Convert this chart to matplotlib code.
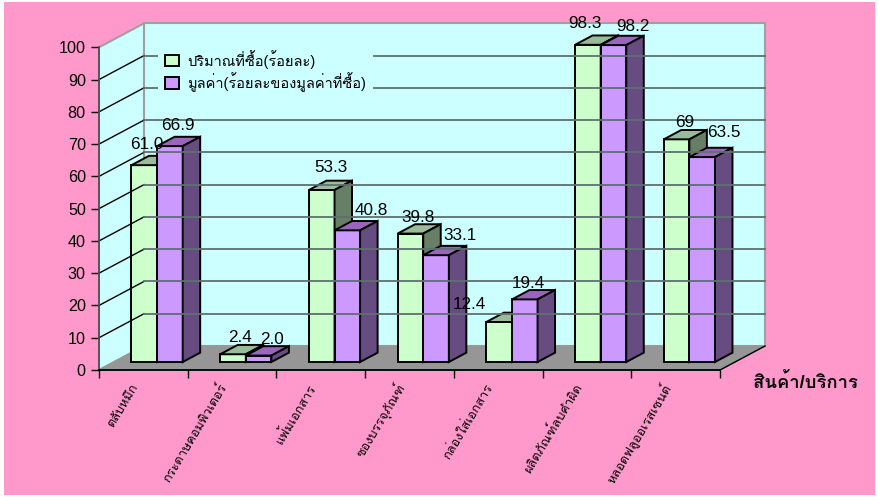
import matplotlib
matplotlib.use('Agg')
import matplotlib.pyplot as plt
from matplotlib.patches import Polygon, Patch, Rectangle

categories = ['ตลับหมึก', 'กระดาษคอมพิวเตอร์', 'แฟ้มเอกสาร', 'ซองบรรจุภัณฑ์',
              'กล่องใส่เอกสาร', 'ผลิตภัณฑ์ลบคำผิด', 'หลอดฟลูออเรสเซนต์']
quantity = [61.0, 2.4, 53.3, 39.8, 12.4, 98.3, 69]
value = [66.9, 2.0, 40.8, 33.1, 19.4, 98.2, 63.5]
quantity_text = ['61.0', '2.4', '53.3', '39.8', '12.4', '98.3', '69']
value_text = ['66.9', '2.0', '40.8', '33.1', '19.4', '98.2', '63.5']
legend_labels = ['ปริมาณที่ซื้อ(ร้อยละ)', 'มูลค่า(ร้อยละของมูลค่าที่ซื้อ)']
x_title = 'สินค้า/บริการ'
y_ticks = [0, 10, 20, 30, 40, 50, 60, 70, 80, 90, 100]

# label offsets from the front top centre of each bar, pixels
shift_q = [(3, 21), (7, 17), (9, 23), (8, 16), (-30, 17), (-3, 21), (8, 17)]
shift_v = [(8, 21), (13, 16), (24, 20), (24, 20), (4, 16), (19, 19), (22, 25)]

plt.rcParams['font.family'] = ['Liberation Sans', 'Loma', 'DejaVu Sans']

W, H = 879, 497
fig = plt.figure(figsize=(W / 100, H / 100), dpi=100, facecolor='white')
fig.add_artist(Rectangle((4 / W, 2 / H), 871 / W, 493 / H, transform=fig.transFigure,
                         facecolor='#FF99CC', edgecolor='none', zorder=-5))
ax = fig.add_axes([99 / W, 1 - 370 / H, 621 / W, 322.7 / H])
ax.set_xlim(0, 7)
ax.set_ylim(0, 100)
ax.patch.set_visible(False)

ddx, ddy = 45 / (621 / 7), 24 / 3.227


def pr(x, y, d):
    return (x + d * ddx, y + d * ddy)


wall = '#CCFFFF'
ax.add_patch(Polygon([pr(0, 0, 1), pr(7, 0, 1), pr(7, 100, 1), pr(0, 100, 1)], fc=wall, ec='#A0A0A0', lw=1.5, clip_on=False))
ax.add_patch(Polygon([pr(0, 0, 0), pr(0, 100, 0), pr(0, 100, 1), pr(0, 0, 1)], fc=wall, ec='#A0A0A0', lw=1.5, clip_on=False))
ax.add_patch(Polygon([pr(0, 0, 0), pr(7, 0, 0), pr(7, 0, 1), pr(0, 0, 1)], fc='#969696', ec='#969696', lw=1, clip_on=False))
ax.plot(*zip(pr(7, 0, 0), pr(7, 0, 1)), color='black', lw=1, clip_on=False)

for v in y_ticks[1:-1]:
    ax.plot(*zip(pr(0, v, 0), pr(0, v, 1)), color='black', lw=1, clip_on=False)
    ax.plot(*zip(pr(0, v, 1), pr(7, v, 1)), color='#5F7070', lw=1.3, clip_on=False)

d0, d1 = 1 / 3, 0.722
bw = 25.6 / (621 / 7)
start = 17.5 / (621 / 7)
styles = [('#CCFFCC', '#99BB99', '#667F66'), ('#CC99FF', '#9966BB', '#664C80')]
for i in range(7):
    for s, vals in enumerate([quantity, value]):
        x0 = i + start + s * bw
        x1 = x0 + bw
        h = vals[i]
        front, top, side = styles[s]
        ax.add_patch(Polygon([pr(x0, 0, d0), pr(x1, 0, d0), pr(x1, h, d0), pr(x0, h, d0)], fc=front, ec='black', lw=1.4, clip_on=False))
        ax.add_patch(Polygon([pr(x0, h, d0), pr(x1, h, d0), pr(x1, h, d1), pr(x0, h, d1)], fc=top, ec='black', lw=1.4, clip_on=False))
        ax.add_patch(Polygon([pr(x1, 0, d0), pr(x1, 0, d1), pr(x1, h, d1), pr(x1, h, d0)], fc=side, ec='black', lw=1.4, clip_on=False))

for i in range(7):
    for s, (vals, txt, shift) in enumerate([(quantity, quantity_text, shift_q), (value, value_text, shift_v)]):
        xc, yc = pr(i + start + (s + 0.5) * bw, vals[i], d0)
        ax.annotate(txt[i], (xc, yc), xytext=shift[i], textcoords='offset pixels',
                    ha='center', va='center', fontsize=12.3, color='black', zorder=10, annotation_clip=False)

for sp in ['top', 'right']:
    ax.spines[sp].set_visible(False)
ax.spines['left'].set_color('#505050')
ax.spines['left'].set_linewidth(1.3)
ax.spines['bottom'].set_color('black')
ax.spines['bottom'].set_linewidth(1.3)
ax.set_yticks(y_ticks)
ax.tick_params(axis='y', length=5.5, width=1, labelsize=11.6, pad=4)
ax.set_xticks(range(8))
ax.set_xticklabels([])
ax.tick_params(axis='x', length=5.5, width=1)

for i, c in enumerate(categories):
    ax.annotate(c, (i + 0.5, 0), xytext=(-8, -15), textcoords='offset pixels', rotation=59,
                rotation_mode='anchor', ha='right', va='center', fontsize=9.2, annotation_clip=False)

fig.text(753 / W, 1 - 382 / H, x_title, fontsize=13.3, fontweight='bold', va='center', ha='left')

handles = [Patch(fc=styles[0][0], ec='black', lw=1.4), Patch(fc=styles[1][0], ec='black', lw=1.4)]
ax.legend(handles, legend_labels, loc='upper left', bbox_to_anchor=(158 / W, 1 - 43 / H),
          bbox_transform=fig.transFigure, facecolor=wall, edgecolor='none', framealpha=1,
          fontsize=10.5, fancybox=False, borderaxespad=0, handlelength=0.95, handleheight=0.8,
          labelspacing=0.22, handletextpad=0.55, borderpad=0.48)

fig.savefig('out.png', dpi=100)
